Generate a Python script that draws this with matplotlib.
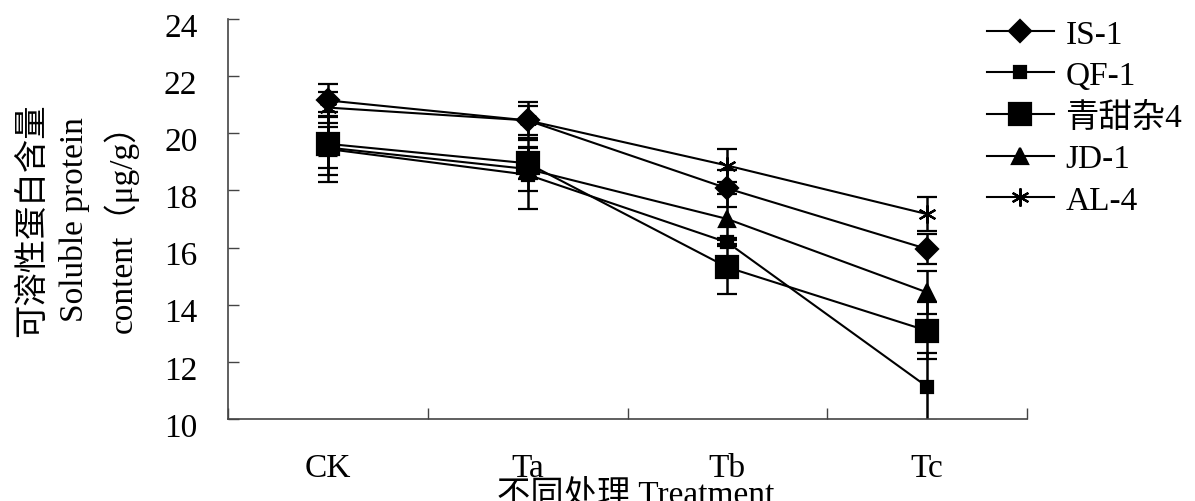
import numpy as np
import matplotlib.pyplot as plt
import matplotlib.transforms as mtransforms

# 不同处理 / treatments
treatments = ['CK', 'Ta', 'Tb', 'Tc']

# soluble protein content (ug/g) and error bars
is1 = [21.15, 20.45, 18.07, 15.95]
is1_err = [0.57, 0.63, 0.66, 0.53]
qf1 = [19.45, 18.55, 16.18, 11.13]
qf1_err = [1.17, 1.2, 0.14, 1.19]
qtz4 = [19.63, 18.95, 15.31, 13.09]
qtz4_err = [1.1, 0.55, 0.95, 1.0]
jd1 = [19.5, 18.75, 17.0, 14.43]
jd1_err = [0.71, 0.78, 0.87, 0.76]
al4 = [20.9, 20.45, 18.87, 17.17]
al4_err = [0.53, 0.5, 0.58, 0.6]

names = ['IS-1', 'QF-1', '青甜杂4', 'JD-1', 'AL-4']
values = [is1, qf1, qtz4, jd1, al4]
errors = [is1_err, qf1_err, qtz4_err, jd1_err, al4_err]
markers = ['D', 's', 's', '^', (6, 2, 0)]
sizes = [11, 9, 16, 11, 13]

plt.rcParams['font.family'] = ['Liberation Serif', 'Noto Sans CJK SC']
plt.rcParams['font.size'] = 24

fig = plt.figure(figsize=(11.95, 5.02), dpi=100)
ax = fig.add_axes([228 / 1195, 82 / 502, 799 / 1195, 400 / 502])

x = np.arange(len(treatments)) + 0.5
handles = []
for name, v, e, m, s in zip(names, values, errors, markers, sizes):
    c = ax.errorbar(x, v, yerr=e, color='black', lw=1.5, marker=m, ms=s,
                    mec='black', mfc='black', mew=1.6, capsize=7, capthick=1.8,
                    elinewidth=1.8, label=name)
    handles.append(c.lines[0])

ax.set_xlim(0, 4)
ax.set_ylim(10, 24)
ax.set_yticks(np.arange(10, 25, 2))
ax.set_xticks(np.arange(0, 5))
ax.set_xticklabels([])
ax.set_xticks(x, minor=True)
ax.set_xticklabels(treatments, minor=True)
ax.tick_params(axis='both', which='major', direction='in', length=8, width=1,
               color='#444444')
ax.tick_params(axis='y', pad=22)
ax.tick_params(axis='x', which='minor', length=0, pad=24)

# numbers sit a little below their ticks in the original
shift = mtransforms.ScaledTranslation(0, -5 / 100, fig.dpi_scale_trans)
for lab in ax.get_yticklabels():
    lab.set_transform(lab.get_transform() + shift)

for side in ['top', 'right']:
    ax.spines[side].set_visible(False)
for side in ['left', 'bottom']:
    ax.spines[side].set_color('#444444')
    ax.spines[side].set_linewidth(1.2)

ax.set_ylabel('可溶性蛋白含量\nSoluble protein\ncontent（μg/g）', linespacing=1.45)
ax.yaxis.set_label_coords(-0.112, 0.5)
ax.set_xlabel('不同处理 Treatment')
ax.xaxis.set_label_coords(0.51, -0.15)

ax.legend(handles, names, loc='upper left',
          bbox_to_anchor=(987 / 1195, 1 - 20 / 502),
          bbox_transform=fig.transFigure, frameon=False, borderpad=0,
          borderaxespad=0, handlelength=2.0, handletextpad=0.35,
          labelspacing=0.33, fontsize=24)

fig.savefig('out.png', dpi=100)
